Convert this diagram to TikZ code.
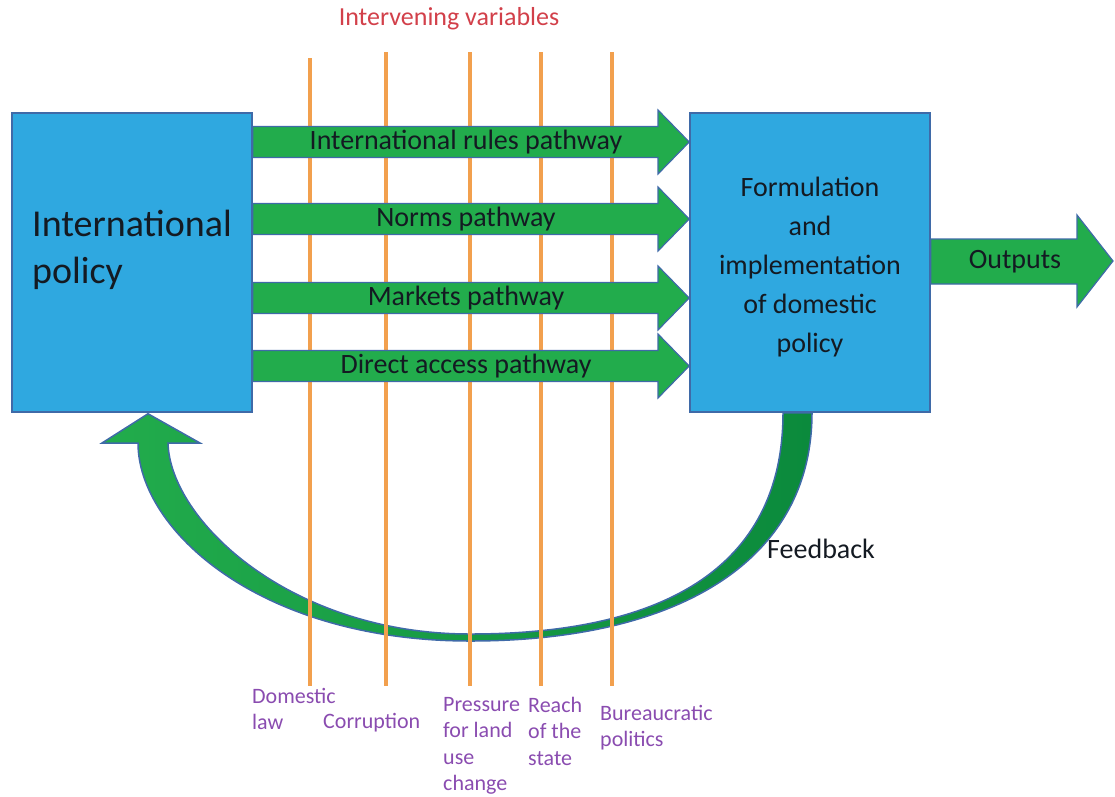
\documentclass[tikz,border=0pt]{standalone}
\usepackage{fontspec}
\setmainfont{Carlito}
\usetikzlibrary{calc}
\definecolor{boxblue}{HTML}{2FA8E0}
\definecolor{edgeblue}{HTML}{3F6AA8}
\definecolor{pgreen}{HTML}{22AC4C}
\definecolor{dgreen}{HTML}{0B8A3C}
\definecolor{lorange}{HTML}{F2A04E}
\definecolor{ivred}{HTML}{D2404A}
\definecolor{vpurple}{HTML}{8A4CB0}
\definecolor{txtdark}{HTML}{141A22}
\tikzset{
  policybox/.style={draw=edgeblue, line width=1.5pt, fill=boxblue, minimum width=240pt, minimum height=299pt, inner sep=0pt},
  patharrow/.style={draw=edgeblue, line width=1.2pt, fill=pgreen, line join=miter},
  pathlabel/.style={font=\fontsize{28}{32}\selectfont, text=txtdark, inner sep=0pt},
  ivline/.style={draw=lorange, line width=3.2pt},
  varlabel/.style={font=\fontsize{22}{26.5}\selectfont, text=vpurple, align=left, anchor=north west, inner sep=0pt},
  feedarrow/.style={draw=edgeblue, line width=1.5pt, left color=pgreen, right color=dgreen}
}
\begin{document}
\begin{tikzpicture}[x=1pt,y=-1pt]
\useasboundingbox (0,0) rectangle (1115,796);
% boxes (named first, drawn at their place)
\node[policybox] (intl) at (132,262.5) {};
\node[policybox] (dom) at (810,262.5) {};
% feedback arrow
\path[feedarrow] ($(dom.south)+(2,0)$) .. controls (812,560) and (680,641) .. (470,641)
  .. controls (260,641) and (138,530) .. (138,443) -- (102,443) -- ($(intl.south)+(16,1)$)
  -- (200,443) -- (168,443) .. controls (170,520) and (290,634) .. (470,634)
  .. controls (660,634) and (783,570) .. ($(dom.south)+(-27,0)$) -- cycle;
\node[font=\fontsize{28}{32}\selectfont, text=txtdark, anchor=west, inner sep=0pt] (fb) at (767,549) {Feedback};
% intervening variable lines
\node[font=\fontsize{26}{30}\selectfont, text=ivred, inner sep=0pt] (iv) at (449,19) {Intervening variables};
\coordinate (t1) at (310,58); \coordinate (b1) at (310,686);
\coordinate (t2) at (386,52); \coordinate (b2) at (386,686);
\coordinate (t3) at (470,52); \coordinate (b3) at (470,686);
\coordinate (t4) at (541,52); \coordinate (b4) at (541,686);
\coordinate (t5) at (612,52); \coordinate (b5) at (612,686);
\foreach \i in {1,...,5} { \draw[ivline] (t\i) -- (b\i); }
% pathway arrows
\foreach \y/\lab in {142/International rules pathway, 219/Norms pathway, 298/Markets pathway, 366/Direct access pathway} {
  \path[patharrow] (intl.east |- 0,\y-15.5) -- (658,\y-15.5) -- (658,\y-32) -- (dom.west |- 0,\y)
     -- (658,\y+32) -- (658,\y+15.5) -- (intl.east |- 0,\y+15.5) -- cycle;
  \node[pathlabel] at (466,\y) {\lab};
}
% redraw boxes on top
\node[policybox] at (intl) {};
\node[policybox] at (dom) {};
\node[font=\fontsize{38}{47}\selectfont, text=txtdark, align=left, anchor=west, inner sep=0pt] (intltext) at (32,250) {International\\policy};
\node[font=\fontsize{28}{39}\selectfont, text=txtdark, align=center, inner sep=0pt] (domtext) at ($(dom)+(0,5)$) {Formulation\\and\\implementation\\of domestic\\policy};
% outputs arrow
\path[patharrow] (dom.east |- 0,239) -- (1077,239) -- (1077,215) -- (1113,261) -- (1077,307) -- (1077,284) -- (dom.east |- 0,284) -- cycle;
\node[pathlabel] (out) at (1015,262) {Outputs};
% variable labels
\node[varlabel] (v1) at (252,688) {Domestic\\law};
\node[varlabel] (v2) at (323,713) {Corruption};
\node[varlabel] (v3) at (443,697) {Pressure\\for land\\use\\change};
\node[varlabel] (v4) at (528,697) {Reach\\of the\\state};
\node[varlabel] (v5) at (600,705) {Bureaucratic\\politics};
\end{tikzpicture}
\end{document}
